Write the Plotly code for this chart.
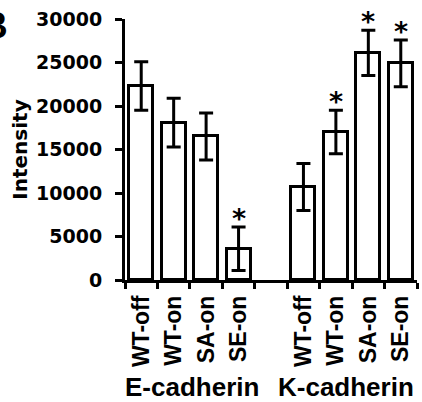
import plotly.graph_objects as go

labels = ["WT-off", "WT-on", "SA-on", "SE-on", "WT-off", "WT-on", "SA-on", "SE-on"]
positions = [0, 1, 2, 3, 5, 6, 7, 8]
values = [22300, 18100, 16500, 3600, 10700, 17000, 26100, 24900]
errors = [2800, 2800, 2700, 2500, 2700, 2500, 2600, 2700]
significant = [False, False, False, True, False, True, True, True]
groups = ["E-cadherin", "K-cadherin"]
group_centers = [1.58, 6.31]
yticks = [0, 5000, 10000, 15000, 20000, 25000, 30000]

fig = go.Figure()
fig.add_trace(go.Bar(
    x=positions, y=values, width=0.74,
    marker=dict(color="white", line=dict(color="black", width=3)),
    error_y=dict(type="data", array=errors, visible=True, color="black", thickness=3, width=7),
    xaxis="x", yaxis="y", showlegend=False,
))
# invisible trace to carry the label axis
fig.add_trace(go.Scatter(x=positions, y=[0]*len(positions), mode="markers",
                         marker=dict(opacity=0), xaxis="x2", yaxis="y",
                         showlegend=False, hoverinfo="skip"))

annotations = []
for p, v, e, s in zip(positions, values, errors, significant):
    if s:
        annotations.append(dict(x=p, y=v + e, xref="x", yref="y", text="*", showarrow=False,
                                yanchor="bottom", yshift=-9,
                                font=dict(family="DejaVu Sans", size=27, color="black", weight="bold")))
for g, c in zip(groups, group_centers):
    annotations.append(dict(x=c, y=-0.41, xref="x", yref="paper", text=g, showarrow=False,
                            yanchor="middle",
                            font=dict(family="Liberation Sans", size=26, color="black", weight="bold")))
annotations.append(dict(x=-0.394, y=1.06, xref="paper", yref="paper", text="B", showarrow=False,
                        xanchor="right", yanchor="top",
                        font=dict(family="Liberation Sans", size=37, color="black", weight="bold")))

bounds = [i - 0.5 for i in range(10)]
fig.update_layout(
    width=422, height=402,
    margin=dict(l=125, r=5, t=19, b=122),
    paper_bgcolor="white", plot_bgcolor="white",
    bargap=0,
    annotations=annotations,
    xaxis=dict(range=[-0.5, 8.5], tickvals=bounds, showticklabels=False,
               ticks="outside", ticklen=6, tickwidth=3, tickcolor="black",
               showline=True, linecolor="black", linewidth=3, showgrid=False, zeroline=False),
    xaxis2=dict(range=[-0.5, 8.5], overlaying="x", side="bottom", tickvals=positions,
                ticktext=labels, tickangle=-90, ticks="", showline=False, showgrid=False,
                zeroline=False, ticklabelstandoff=10,
                tickfont=dict(family="Liberation Sans", size=23, color="black", weight="bold")),
    yaxis=dict(range=[0, 30000], tickvals=yticks, ticktext=[str(t) for t in yticks],
               ticks="outside", ticklen=7, tickwidth=3, tickcolor="black",
               showline=True, linecolor="black", linewidth=3, showgrid=False, zeroline=False,
               ticklabelstandoff=9,
               tickfont=dict(family="DejaVu Sans", size=19, color="black", weight="bold"),
               title=dict(text="Intensity", standoff=4,
                          font=dict(family="DejaVu Sans", size=20, color="black", weight="bold"))),
)
fig.write_html("out.html", config={"displayModeBar": False},
               post_script="document.body.style.margin='0';")
